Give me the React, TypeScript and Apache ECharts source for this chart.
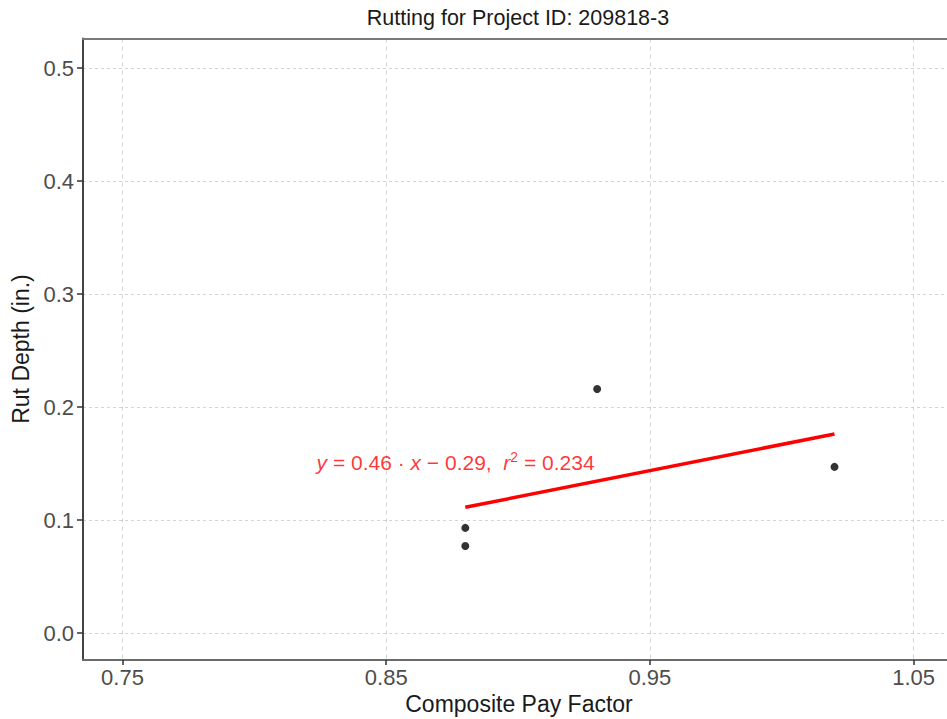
import React, { useEffect, useRef } from "react";
import * as echarts from "echarts";

const titleText = "Rutting for Project ID: 209818-3";
const xName = "Composite Pay Factor";
const yName = "Rut Depth (in.)";
const payFactor = [0.88, 0.88, 0.93, 1.02];
const rutDepth = [0.093, 0.077, 0.216, 0.147];
const xTicks = [0.75, 0.85, 0.95, 1.05];
const yTicks = [0.0, 0.1, 0.2, 0.3, 0.4, 0.5];
const equationPos = [0.8236, 0.151];

function fit(xs: number[], ys: number[]) {
  const n = xs.length;
  const mx = xs.reduce((a, b) => a + b, 0) / n;
  const my = ys.reduce((a, b) => a + b, 0) / n;
  let sxy = 0, sxx = 0;
  for (let i = 0; i < n; i++) {
    sxy += (xs[i] - mx) * (ys[i] - my);
    sxx += (xs[i] - mx) ** 2;
  }
  const b = sxy / sxx;
  return { b, a: my - b * mx };
}

export default function App() {
  const ref = useRef<HTMLDivElement>(null);
  useEffect(() => {
    const chart = echarts.init(ref.current!, null, { renderer: "svg" });
    const { a, b } = fit(payFactor, rutDepth);
    const xmin = Math.min(...payFactor);
    const xmax = Math.max(...payFactor);
    const font = "Liberation Sans, Arial, sans-serif";
    const W = 947;
    const gridLeft = 83, gridTop = 38.5, gridRight = -60, gridH = 621.5;
    const gridW = W - gridLeft - gridRight;
    const pxPerX = 2637, pxPerY = 1130;
    const xAxisMin = 0.75 - (122.5 - gridLeft) / pxPerX;
    const xAxisMax = xAxisMin + gridW / pxPerX;
    const yAxisMax = 0.5 + (68 - gridTop) / pxPerY;
    chart.setOption({
      animation: false,
      backgroundColor: "#ffffff",
      textStyle: { fontFamily: font },
      grid: {
        left: gridLeft,
        top: gridTop,
        right: gridRight,
        height: gridH,
        show: false,
        containLabel: false,
        outerBoundsMode: "none",
      },
      xAxis: [
        {
          type: "value",
          min: xAxisMin,
          max: xAxisMax,
          axisLine: { show: true, onZero: false, lineStyle: { color: "#6a6a6a", width: 2 } },
          axisTick: { show: true, length: 5, customValues: xTicks, lineStyle: { color: "#333333", width: 1.5 } },
          axisLabel: {
            customValues: xTicks,
            formatter: (v: number) => v.toFixed(2),
            color: "#4d4d4d",
            fontSize: 22,
            margin: 6,
            fontFamily: font,
          },
          splitLine: { show: true, lineStyle: { color: "#d3d3d3", type: [4, 4], width: 1 } },
        },
        {
          type: "value",
          position: "top",
          min: xAxisMin,
          max: xAxisMax,
          axisLine: { show: true, onZero: false, lineStyle: { color: "#7a7a7a", width: 2 } },
          axisTick: { show: false },
          axisLabel: { show: false },
          splitLine: { show: false },
        },
      ],
      yAxis: {
        type: "value",
        min: yAxisMax - gridH / pxPerY,
        max: yAxisMax,
        axisLine: { show: true, onZero: false, lineStyle: { color: "#444444", width: 2 } },
        axisTick: { show: true, length: 6, customValues: yTicks, lineStyle: { color: "#333333", width: 1.5 } },
        axisLabel: {
          customValues: yTicks,
          formatter: (v: number) => v.toFixed(1),
          color: "#4d4d4d",
          fontSize: 22,
          margin: 9,
          fontFamily: font,
        },
        splitLine: { show: true, lineStyle: { color: "#d3d3d3", type: [3, 3], width: 1 } },
      },
      graphic: [
        {
          type: "text",
          x: 518,
          y: 18,
          style: { text: titleText, fill: "#1a1a1a", font: `21.5px ${font}`, align: "center", verticalAlign: "middle" },
        },
        {
          type: "text",
          x: 519,
          y: 704,
          style: { text: xName, fill: "#1a1a1a", font: `23px ${font}`, align: "center", verticalAlign: "middle" },
        },
        {
          type: "text",
          x: 21,
          y: 349,
          rotation: Math.PI / 2,
          style: { text: yName, fill: "#1a1a1a", font: `23px ${font}`, align: "center", verticalAlign: "middle" },
        },
      ],
      series: [
        {
          type: "line",
          data: [
            [xmin, a + b * xmin],
            [xmax, a + b * xmax],
          ],
          symbol: "none",
          lineStyle: { color: "#ff0000", width: 3.5 },
          z: 3,
        },
        {
          type: "scatter",
          data: payFactor.map((x, i) => [x, rutDepth[i]]),
          symbolSize: 8,
          itemStyle: { color: "#000000" },
          z: 4,
        },
        {
          type: "scatter",
          data: [equationPos],
          symbolSize: 0,
          silent: true,
          label: {
            show: true,
            position: "right",
            distance: 0,
            formatter: "{i|y} = 0.46 · {i|x} − 0.29,  {i|r}{sup|2} = 0.234",
            color: "#ff0000",
            fontSize: 21,
            fontFamily: font,
            rich: {
              i: { fontStyle: "italic", color: "#ff0000", fontSize: 21, fontFamily: font },
              sup: { fontSize: 14, color: "#ff0000", fontFamily: font, padding: [0, 0, 11, 0] },
            },
          },
        },
      ],
    });
    return () => chart.dispose();
  }, []);
  return (
    <div style={{ position: "fixed", left: 0, top: 0, width: 947, height: 719, overflow: "hidden", background: "#fff" }}>
      <div ref={ref} style={{ width: 947, height: 719 }} />
    </div>
  );
}
